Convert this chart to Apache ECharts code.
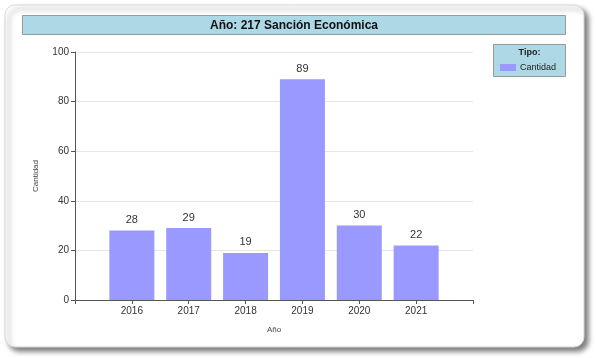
<!DOCTYPE html>
<html>
<head>
<meta charset="utf-8">
<script src="https://cdn.jsdelivr.net/npm/echarts@6/dist/echarts.min.js"></script>
<style>
html,body{margin:0;padding:0;background:#fff;}
#c{width:596px;height:358px;}
</style>
</head>
<body>
<div id="c"></div>
<script>
const titleText = 'Año: 217 Sanción Económica';
const legendTitle = 'Tipo:';
const seriesName = 'Cantidad';
const categories = [2016, 2017, 2018, 2019, 2020, 2021];
const values = [28, 29, 19, 89, 30, 22];
const yTicks = [0, 20, 40, 60, 80, 100];

const chart = echarts.init(document.getElementById('c'), null, {renderer: 'canvas'});
const font = 'Arial, "Liberation Sans", sans-serif';

chart.setOption({
  animation: false,
  backgroundColor: '#fff',
  graphic: [
    {type: 'rect', z: -10, shape: {x: 5, y: 5, width: 579, height: 342, r: 10},
     style: {fill: '#fff', stroke: '#d8d8d8', lineWidth: 1,
             shadowBlur: 5, shadowOffsetX: 4, shadowOffsetY: 4, shadowColor: 'rgba(0,0,0,0.5)'}},
    {type: 'rect', z: -5, shape: {x: 22.5, y: 15.5, width: 543, height: 19},
     style: {fill: '#add8e6', stroke: '#9a9a9a', lineWidth: 1}},
    {type: 'rect', z: -5, shape: {x: 493.5, y: 44.5, width: 72, height: 32},
     style: {fill: '#add8e6', stroke: '#9a9a9a', lineWidth: 1}},
    {type: 'text', z: 5, x: 529.5, y: 52.5,
     style: {text: legendTitle, fill: '#222', font: 'bold 9px ' + font, textAlign: 'center', textVerticalAlign: 'middle'}}
  ],
  title: {
    text: titleText,
    left: 294, top: 18.5, textAlign: 'center',
    padding: 0,
    textStyle: {fontFamily: font, fontSize: 12, fontWeight: 'bold', color: '#111', lineHeight: 14}
  },
  legend: {
    data: [seriesName],
    left: 500, top: 63,
    padding: 0,
    itemWidth: 16, itemHeight: 7, itemGap: 4,
    icon: 'rect',
    textStyle: {fontFamily: font, fontSize: 9, color: '#222', padding: [0, 0, 0, -1]}
  },
  grid: {left: 75, right: 123, top: 52, bottom: 58, containLabel: false},
  xAxis: {
    type: 'value',
    min: categories[0] - 1,
    max: categories[categories.length - 1] + 1,
    interval: 1,
    name: 'Año',
    nameLocation: 'middle',
    nameGap: 26,
    nameTextStyle: {fontFamily: font, fontSize: 8, color: '#444'},
    axisLine: {show: true, lineStyle: {color: '#555', width: 1}},
    axisTick: {show: true, length: 4, lineStyle: {color: '#555'}},
    axisLabel: {
      fontFamily: font, fontSize: 10, color: '#333', margin: 6,
      formatter: v => categories.includes(v) ? String(v) : ''
    },
    splitLine: {show: false}
  },
  yAxis: {
    type: 'value',
    min: yTicks[0],
    max: yTicks[yTicks.length - 1],
    interval: 20,
    name: 'Cantidad',
    nameLocation: 'middle',
    nameGap: 35,
    nameTextStyle: {fontFamily: font, fontSize: 8, color: '#444'},
    axisLine: {show: true, lineStyle: {color: '#555', width: 1}},
    axisTick: {show: true, length: 4, lineStyle: {color: '#555'}},
    axisLabel: {fontFamily: font, fontSize: 10, color: '#333', margin: 6},
    splitLine: {show: true, lineStyle: {color: '#e6e6e6', width: 1}}
  },
  series: [{
    name: seriesName,
    type: 'bar',
    barWidth: 45,
    data: categories.map((c, i) => [c, values[i]]),
    itemStyle: {color: '#9999ff'},
    label: {show: true, position: 'top', distance: 5, fontFamily: font, fontSize: 11, color: '#333'}
  }]
});
</script>
</body>
</html>
